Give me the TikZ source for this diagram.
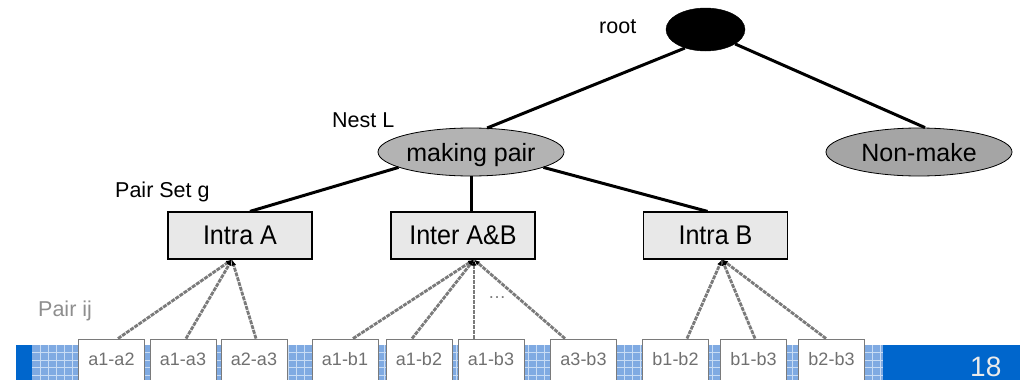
\documentclass[tikz,border=0pt]{standalone}
\usepackage{fontspec}
\setmainfont{Liberation Sans}
\newfontfamily\narrowf{Liberation Sans}[FakeStretch=0.93]
\usetikzlibrary{shapes.geometric,arrows.meta,calc}
\definecolor{bandblue}{HTML}{0066CC}
\definecolor{gridblue}{HTML}{7FAAE2}
\definecolor{gridline}{HTML}{C8DCF4}
\definecolor{ellgray}{HTML}{B3B3B3}
\definecolor{boxgray}{HTML}{E8E8E8}
\definecolor{pairtext}{HTML}{707070}
\definecolor{linegray}{HTML}{7A7A7A}
\tikzset{
  treeline/.style={line width=3pt,black},
  pairline/.style={line width=2.8pt,linegray,dash pattern=on 4pt off 1pt,-{Latex[length=6pt,width=5pt,black]}},
  ellnode/.style={ellipse,draw=black,line width=0.8pt,fill=ellgray,inner sep=0pt,minimum width=186pt,minimum height=48pt,text depth=0pt,font=\fontsize{25}{26}\selectfont},
  groupbox/.style={rectangle,draw=black,line width=1.2pt,fill=boxgray,minimum width=144pt,minimum height=47pt,inner sep=0pt,font=\narrowf\fontsize{27}{28}\selectfont},
  pairbox/.style={rectangle,draw=linegray,line width=0.9pt,fill=white,minimum width=66pt,text height=20pt,text depth=20pt,inner ysep=6pt,inner xsep=0pt,text=pairtext,font=\fontsize{18}{19}\selectfont},
  label/.style={inner sep=0pt,anchor=base west,font=\fontsize{21.5}{23}\selectfont}
}
\begin{document}
\begin{tikzpicture}[x=1pt,y=-1pt]
\useasboundingbox (0,0) rectangle (1020,380);
\clip (0,0) rectangle (1020,380);
% bottom band
\fill[gridblue] (32,345) rectangle (883,380);
\foreach \gx in {40,48,...,880} \draw[gridline,line width=0.7pt] (\gx,345) -- (\gx,380);
\foreach \gy in {352.5,360,367.5,375} \draw[gridline,line width=0.7pt] (32,\gy) -- (883,\gy);
\fill[bandblue] (16,345) rectangle (32,380);
\fill[bandblue] (883,345) rectangle (1020,380);
\node[inner sep=0pt,anchor=base west,text=white!92!black,font=\fontsize{28}{30}\selectfont] (num) at (970,376) {18};
% tree nodes
\node[ellipse,fill=black,draw=black,minimum width=79pt,minimum height=43pt,inner sep=0pt] (root) at (705.5,29.5) {};
\node[ellnode] (mp) at (471,152) {making pair};
\node[ellnode,fill=ellgray!92!black] (nm) at (919,152) {Non-make};
\node[groupbox] (ia) at (240,235.5) {Intra A};
\node[groupbox] (iab) at (463,235.5) {Inter A\&B};
\node[groupbox] (ib) at (715.5,235.5) {Intra B};
% labels
\node[label] (lroot) at (599,33) {root};
\node[label] (lnest) at (332,127) {Nest L};
\node[label] (lset) at (115,197) {Pair Set g};
\node[label,text=linegray!85] (lpair) at (38,316) {Pair ij};
\node[inner sep=0pt,text=linegray,font=\fontsize{18}{19}\selectfont] (dots) at (497,298) {…};
% tree lines
\draw[treeline] (root.222) -- (mp.56);
\draw[treeline] (root.334) -- ([xshift=6pt]nm.north);
\draw[treeline] (mp.192) -- ([xshift=10pt]ia.north);
\draw[treeline] (mp.south) -- (mp.south |- iab.north);
\draw[treeline] (mp.348) -- ([xshift=-8pt]ib.north);
% pair boxes
\node[pairbox] (p1) at (111.5,365) {a1-a2};
\node[pairbox] (p2) at (183,365) {a1-a3};
\node[pairbox] (p3) at (254,365) {a2-a3};
\node[pairbox] (p4) at (345,365) {a1-b1};
\node[pairbox] (p5) at (419,365) {a1-b2};
\node[pairbox] (p6) at (491,365) {a1-b3};
\node[pairbox] (p7) at (583.5,365) {a3-b3};
\node[pairbox] (p8) at (675.5,365) {b1-b2};
\node[pairbox] (p9) at (753.5,365) {b1-b3};
\node[pairbox] (p10) at (831.5,365) {b2-b3};
% convergence points
\coordinate (ca) at ([xshift=-8pt]ia.south);
\coordinate (cab) at ([xshift=11pt]iab.south);
\coordinate (cb) at ([xshift=6.5pt]ib.south);
% pair lines
\draw[pairline] ([xshift=6.5pt]p1.north) -- (ca);
\draw[pairline] ([xshift=3pt]p2.north) -- (ca);
\draw[pairline] ([xshift=2pt]p3.north) -- (ca);
\draw[pairline] ([xshift=8pt]p4.north) -- (cab);
\draw[pairline] ([xshift=-7pt]p5.north) -- (cab);
\draw[pairline] ([xshift=-17pt]p6.north) -- (cab);
\draw[pairline] ([xshift=-18.5pt]p7.north) -- (cab);
\draw[pairline] ([xshift=11.5pt]p8.north) -- (cb);
\draw[pairline] ([xshift=1.5pt]p9.north) -- (cb);
\draw[pairline] ([xshift=-5.5pt]p10.north) -- (cb);
\end{tikzpicture}
\end{document}
